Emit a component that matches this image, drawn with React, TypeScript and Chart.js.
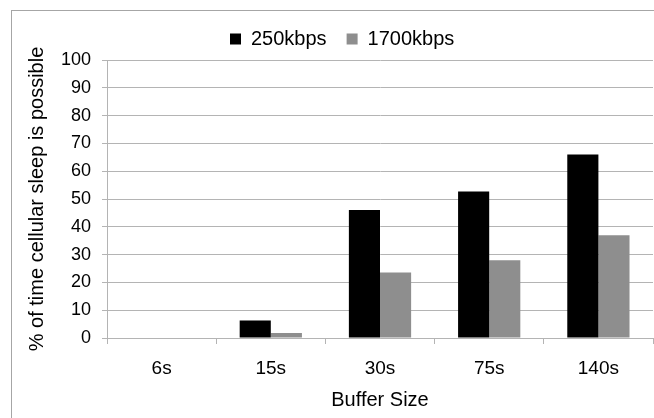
import React, { useEffect, useRef } from "react";
import { Chart, registerables } from "chart.js";

Chart.register(...registerables);

const categories = ["6s", "15s", "30s", "75s", "140s"];
const series250 = [0, 6.3, 46, 52.7, 66];
const series1700 = [0, 1.8, 23.6, 28, 37];
const yTicks = [0, 10, 20, 30, 40, 50, 60, 70, 80, 90, 100];

const FONT = "'Liberation Sans', Arial, sans-serif";
const GRID = "#b4b4b4";

const frame = {
  id: "frame",
  beforeDraw(chart: any) {
    const ctx = chart.ctx;
    ctx.save();
    ctx.fillStyle = "#ffffff";
    ctx.fillRect(0, 0, chart.width, chart.height);
    ctx.strokeStyle = "#a6a6a6";
    ctx.lineWidth = 1;
    ctx.strokeRect(11.5, 10.5, 800, 600);
    ctx.restore();
  },
};

const legendTweak = {
  id: "legendTweak",
  beforeInit(chart: any) {
    const legend = chart.legend;
    if (!legend) return;
    const orig = legend.fit;
    legend.fit = function () {
      orig.call(this);
      this.height = 51;
    };
  },
  afterLayout(chart: any) {
    const legend = chart.legend;
    if (!legend || !legend.lineWidths) return;
    const pad = legend.options.labels.padding;
    const lw = legend.lineWidths[0];
    const startX = 230;
    legend.right = 2 * startX - legend.left - pad + lw;
  },
};

export default function App() {
  const ref = useRef<HTMLCanvasElement | null>(null);
  useEffect(() => {
    document.body.style.margin = "0";
    const chart = new Chart(ref.current as HTMLCanvasElement, {
      type: "bar",
      data: {
        labels: categories,
        datasets: [
          { label: "250kbps", data: series250, backgroundColor: "#000000", categoryPercentage: 0.57, barPercentage: 1 },
          { label: "1700kbps", data: series1700, backgroundColor: "#8e8e8e", categoryPercentage: 0.57, barPercentage: 1 },
        ],
      },
      plugins: [frame, legendTweak],
      options: {
        animation: false,
        responsive: false,
        maintainAspectRatio: false,
        layout: { padding: { top: 9, left: 25, right: 1, bottom: 6 } },
        plugins: {
          legend: {
            position: "top",
            labels: {
              font: { family: FONT, size: 20 },
              color: "#000",
              boxWidth: 11,
              boxHeight: 11,
              padding: 20,
            },
          },
          tooltip: { enabled: false },
        },
        scales: {
          x: {
            afterFit(scale: any) { scale.height = 74; },
            grid: { display: true, drawOnChartArea: false, offset: true, tickLength: 6, color: GRID },
            border: { display: true, color: GRID },
            ticks: { font: { family: FONT, size: 19 }, color: "#000", padding: 13 },
            title: { display: true, text: "Buffer Size", font: { family: FONT, size: 20 }, color: "#000", padding: { top: 0, bottom: 0 } },
          },
          y: {
            min: 0,
            max: 100,
            afterFit(scale: any) { scale.width = 82; },
            afterBuildTicks(scale: any) { scale.ticks = yTicks.map((v) => ({ value: v })); },
            grid: { color: GRID, tickLength: 5 },
            border: { display: true, color: GRID },
            ticks: { font: { family: FONT, size: 18 }, color: "#000", padding: 11 },
            title: { display: true, text: "% of time cellular sleep is possible", font: { family: FONT, size: 20 }, color: "#000", padding: { top: 0, bottom: 0 } },
          },
        },
      },
    });
    return () => chart.destroy();
  }, []);
  return <canvas ref={ref} width={654} height={418} style={{ display: "block", width: 654, height: 418 }} />;
}
